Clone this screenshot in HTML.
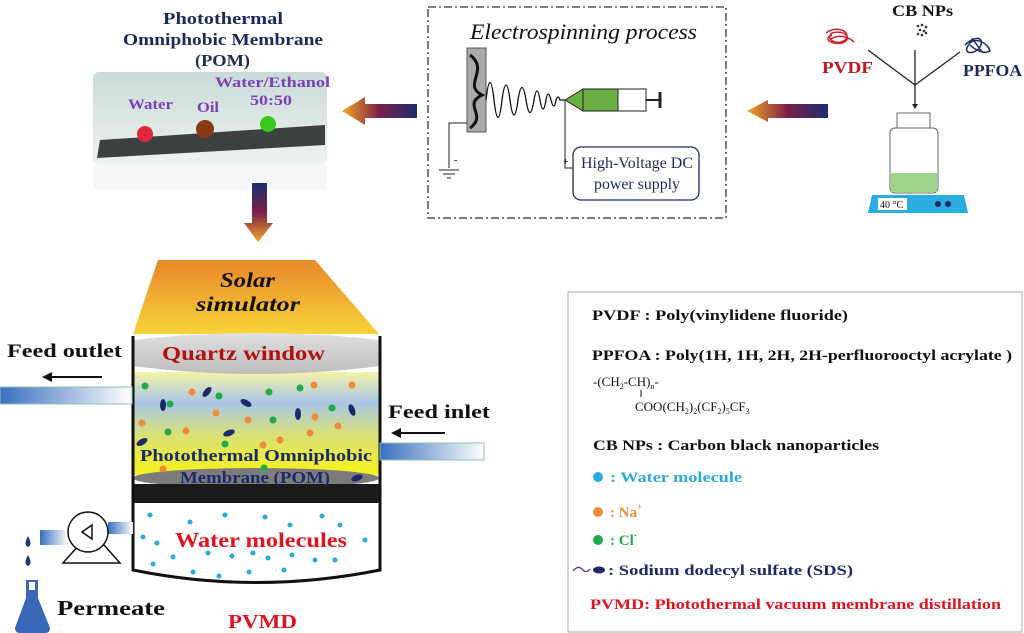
<!DOCTYPE html>
<html><head><meta charset="utf-8"><style>
html,body{margin:0;padding:0;background:#fff;}
svg{display:block;font-family:"Liberation Serif",serif;}
.b{font-weight:bold;}
</style></head><body>
<svg width="1024" height="633" viewBox="0 0 1024 633" xmlns="http://www.w3.org/2000/svg">
<defs>
<linearGradient id="arrH" x1="0" x2="1" y1="0" y2="0"><stop offset="0" stop-color="#f5a623"/><stop offset="0.5" stop-color="#7a1f4a"/><stop offset="1" stop-color="#1a2e6e"/></linearGradient>
<linearGradient id="arrV" x1="0" x2="0" y1="0" y2="1"><stop offset="0" stop-color="#1a2e6e"/><stop offset="0.5" stop-color="#7a1f4a"/><stop offset="1" stop-color="#f5a623"/></linearGradient>
<linearGradient id="solar" x1="0" x2="0" y1="0" y2="1"><stop offset="0" stop-color="#e8872a"/><stop offset="1" stop-color="#f8d43a"/></linearGradient>
<linearGradient id="feed" x1="0" x2="0" y1="0" y2="1"><stop offset="0" stop-color="#f4f3a8"/><stop offset="0.3" stop-color="#a9c6e6"/><stop offset="0.6" stop-color="#d8e07a"/><stop offset="1" stop-color="#f8f21a"/></linearGradient>
<linearGradient id="pipeL" x1="0" x2="1"><stop offset="0" stop-color="#3a6fc0"/><stop offset="1" stop-color="#ffffff"/></linearGradient>
<linearGradient id="photo" x1="0" x2="0" y1="0" y2="1"><stop offset="0" stop-color="#c9dcd8"/><stop offset="0.6" stop-color="#dfe9e6"/><stop offset="1" stop-color="#eef3f2"/></linearGradient>
<linearGradient id="quartz" x1="0" x2="0" y1="0" y2="1"><stop offset="0" stop-color="#e0e0e0"/><stop offset="1" stop-color="#bdbdbd"/></linearGradient>
</defs>

<!-- top left title -->
<g class="b" fill="#1c2a5a" font-size="17">
<text x="163" y="24" textLength="120" lengthAdjust="spacingAndGlyphs">Photothermal</text>
<text x="123" y="45" textLength="200" lengthAdjust="spacingAndGlyphs">Omniphobic Membrane</text>
<text x="195" y="66" textLength="55" lengthAdjust="spacingAndGlyphs">(POM)</text>
</g>
<!-- photo -->
<rect x="93" y="72" width="234" height="93" rx="6" fill="url(#photo)"/>
<rect x="93" y="165" width="234" height="24" fill="#f2f5f4" opacity="0.7"/>
<polygon points="100,140 325,125 325,145 97,158" fill="#3d4040"/>
<circle cx="145" cy="134" r="8" fill="#e0283c"/>
<circle cx="205" cy="129" r="9" fill="#8a3a12"/>
<circle cx="268" cy="124" r="8" fill="#3cc81c"/>
<g class="b" fill="#7b3fb8" font-size="15">
<text x="128" y="109" textLength="45" lengthAdjust="spacingAndGlyphs">Water</text>
<text x="197" y="112" textLength="22" lengthAdjust="spacingAndGlyphs">Oil</text>
<text x="215" y="87" textLength="115" lengthAdjust="spacingAndGlyphs">Water/Ethanol</text>
<text x="250" y="105" textLength="42" lengthAdjust="spacingAndGlyphs">50:50</text>
</g>
<!-- arrows -->
<polygon points="342,111 365,97 365,104 417,104 417,118 365,118 365,125" fill="url(#arrH)"/>
<polygon points="747,111 768,100 768,104 828,104 828,118 768,118 768,122" fill="url(#arrH)"/>
<polygon points="252,183 267,183 267,223 273,223 258,242 244,223 252,223" fill="url(#arrV)"/>

<!-- electrospinning box -->
<rect x="428" y="7" width="298" height="211" fill="none" stroke="#333" stroke-width="1.3" stroke-dasharray="8,3,2,3"/>
<text x="470" y="39" font-size="22" font-style="italic" fill="#111" textLength="227" lengthAdjust="spacingAndGlyphs">Electrospinning process</text>
<rect x="467" y="48" width="19" height="84" fill="#aaa" stroke="#555"/>
<path d="M470,55 C490,70 462,85 482,95 C462,105 488,115 470,128" stroke="#111" stroke-width="3" fill="none"/>
<path d="M486,100 Q490,65 494,100 T502,100 Q506,70 510,100 T518,100 Q522,75 526,100 T534,100 Q537,82 540,100 T546,100 Q548,88 551,100 T556,100 Q558,94 560,100 L565,100" stroke="#111" stroke-width="1.3" fill="none"/>
<polygon points="565,100 583,89 583,111" fill="#6aae44" stroke="#222"/>
<rect x="583" y="89" width="35" height="22" fill="#6aae44" stroke="#222"/>
<rect x="618" y="89" width="28" height="22" fill="#fff" stroke="#222"/>
<line x1="646" y1="100" x2="660" y2="100" stroke="#222" stroke-width="2"/>
<line x1="660" y1="92" x2="660" y2="108" stroke="#222" stroke-width="3"/>
<polyline points="565,100 565,168 573,168" fill="none" stroke="#222"/>
<text x="563" y="165" font-size="10">+</text>
<polyline points="467,123 449,123 449,168" fill="none" stroke="#222"/>
<line x1="439" y1="170" x2="459" y2="170" stroke="#222"/><line x1="443" y1="174" x2="455" y2="174" stroke="#222"/><line x1="447" y1="178" x2="451" y2="178" stroke="#222"/>
<text x="454" y="163" font-size="10">-</text>
<rect x="573" y="147" width="126" height="53" rx="8" fill="#fff" stroke="#1c2a5a" stroke-width="1.3"/>
<g fill="#1c2a5a" font-size="16"><text x="581" y="168" textLength="112" lengthAdjust="spacingAndGlyphs">High-Voltage DC</text><text x="594" y="189" textLength="86" lengthAdjust="spacingAndGlyphs">power supply</text></g>

<!-- right: mixing -->
<text x="892" y="16" class="b" font-size="16" fill="#111" textLength="61" lengthAdjust="spacingAndGlyphs">CB NPs</text>
<g fill="#333"><circle cx="918" cy="26" r="1.3"/><circle cx="922" cy="25" r="1.3"/><circle cx="926" cy="27" r="1.3"/><circle cx="920" cy="30" r="1.3"/><circle cx="924" cy="31" r="1.3"/><circle cx="918" cy="34" r="1.3"/><circle cx="922" cy="35" r="1.3"/><circle cx="926" cy="33" r="1.3"/></g>
<path d="M826,33 c10,-8 25,-2 20,6 c-8,8 -22,0 -14,-6 c12,-4 22,6 10,10 c-10,2 -20,-4 -10,-8 M830,40 c6,-6 18,-4 24,2" stroke="#d0202a" stroke-width="1.5" fill="none"/>
<path d="M965,45 c10,-10 20,-8 15,2 c-5,8 -20,8 -10,-4 c6,-6 18,0 20,8 c-6,4 -16,-2 -20,-6 M972,38 l10,14" stroke="#1c2a6a" stroke-width="1.5" fill="none"/>
<text x="822" y="73" class="b" font-size="17" fill="#c8161e" textLength="51" lengthAdjust="spacingAndGlyphs">PVDF</text>
<text x="963" y="76" class="b" font-size="17" fill="#1c2a5a" textLength="59" lengthAdjust="spacingAndGlyphs">PPFOA</text>
<g stroke="#222" stroke-width="1.3" fill="none"><line x1="868" y1="50" x2="915" y2="85"/><line x1="960" y1="52" x2="915" y2="85"/><line x1="915" y1="50" x2="915" y2="106"/></g>
<polygon points="912,104 918,104 915,109" fill="#222"/>
<rect x="897" y="113" width="33" height="15" fill="#fff" stroke="#666"/>
<rect x="890" y="128" width="48" height="65" rx="5" fill="#fff" stroke="#666"/>
<rect x="891" y="173" width="46" height="19" fill="#9fd58a"/>
<polygon points="872,195 964,195 968,213 868,213" fill="#2aaee0"/>
<rect x="878" y="198" width="29" height="12" fill="#fff"/>
<text x="880" y="208" font-size="10" fill="#111">40 °C</text>
<circle cx="938" cy="204" r="3" fill="#1c2a6a"/><circle cx="948" cy="204" r="3" fill="#1c2a6a"/>

<!-- PVMD -->
<polygon points="158,260 315,260 379,334 133,334" fill="url(#solar)"/>
<g class="b" font-style="italic" font-size="21" fill="#111"><text x="220" y="287" textLength="55" lengthAdjust="spacingAndGlyphs">Solar</text><text x="196" y="311" textLength="104" lengthAdjust="spacingAndGlyphs">simulator</text></g>
<path d="M133,372 L133,475 L380,475 L380,372 Z" fill="url(#feed)"/>
<path d="M133,340 Q256,326 380,340 L380,366 Q256,382 133,366 Z" fill="url(#quartz)"/>
<text x="162" y="360" class="b" font-size="20" fill="#b01010" textLength="163" lengthAdjust="spacingAndGlyphs">Quartz window</text>
<ellipse cx="256" cy="478" rx="123" ry="10" fill="#7c7c7c"/>
<rect x="133" y="484" width="247" height="19" fill="#1a1a1a"/>
<path d="M133,503 L133,570 Q256,595 380,570 L380,503 Z" fill="#fff"/>
<path d="M133,336 L133,570 Q256,595 380,570 L380,336" fill="none" stroke="#111" stroke-width="3"/>
<g fill="#f08a3c"><circle cx="192" cy="392" r="3.5"/><circle cx="314" cy="385" r="3.5"/><circle cx="352" cy="385" r="3.5"/><circle cx="216" cy="413" r="3.5"/><circle cx="248" cy="420" r="3.5"/><circle cx="142" cy="423" r="3.5"/><circle cx="186" cy="431" r="3.5"/><circle cx="315" cy="417" r="3.5"/><circle cx="338" cy="426" r="3.5"/><circle cx="310" cy="433" r="3.5"/><circle cx="280" cy="440" r="3.5"/><circle cx="263" cy="445" r="3.5"/><circle cx="163" cy="469" r="3.5"/></g>
<g fill="#22a94a"><circle cx="145" cy="386" r="3.5"/><circle cx="170" cy="404" r="3.5"/><circle cx="219" cy="396" r="3.5"/><circle cx="269" cy="392" r="3.5"/><circle cx="300" cy="388" r="3.5"/><circle cx="332" cy="408" r="3.5"/><circle cx="273" cy="420" r="3.5"/><circle cx="168" cy="432" r="3.5"/><circle cx="225" cy="444" r="3.5"/><circle cx="264" cy="468" r="3.5"/></g>
<g fill="#1c2a6a"><ellipse cx="207" cy="392" rx="3" ry="6" transform="rotate(40 207 392)"/><ellipse cx="163" cy="405" rx="3" ry="6"/><ellipse cx="246" cy="403" rx="3" ry="6" transform="rotate(-60 246 403)"/><ellipse cx="298" cy="414" rx="3" ry="6"/><ellipse cx="352" cy="410" rx="3" ry="6" transform="rotate(-20 352 410)"/><ellipse cx="229" cy="433" rx="3" ry="6" transform="rotate(70 229 433)"/><ellipse cx="142" cy="442" rx="3" ry="6" transform="rotate(60 142 442)"/><ellipse cx="357" cy="478" rx="3" ry="6" transform="rotate(70 357 478)"/></g>
<g class="b" font-size="17" fill="#1c2a6a"><text x="140" y="461" textLength="232" lengthAdjust="spacingAndGlyphs">Photothermal Omniphobic</text><text x="180" y="483" textLength="150" lengthAdjust="spacingAndGlyphs">Membrane (POM)</text></g>
<g fill="#29a9e0"><circle cx="150" cy="515" r="2.5"/><circle cx="190" cy="522" r="2.5"/><circle cx="225" cy="515" r="2.5"/><circle cx="265" cy="517" r="2.5"/><circle cx="290" cy="525" r="2.5"/><circle cx="322" cy="516" r="2.5"/><circle cx="340" cy="525" r="2.5"/><circle cx="143" cy="537" r="2.5"/><circle cx="157" cy="543" r="2.5"/><circle cx="365" cy="540" r="2.5"/><circle cx="153" cy="564" r="2.5"/><circle cx="173" cy="557" r="2.5"/><circle cx="208" cy="553" r="2.5"/><circle cx="232" cy="556" r="2.5"/><circle cx="253" cy="553" r="2.5"/><circle cx="268" cy="558" r="2.5"/><circle cx="292" cy="555" r="2.5"/><circle cx="315" cy="560" r="2.5"/><circle cx="335" cy="560" r="2.5"/><circle cx="193" cy="572" r="2.5"/><circle cx="219" cy="576" r="2.5"/><circle cx="249" cy="572" r="2.5"/><circle cx="284" cy="570" r="2.5"/></g>
<text x="175" y="547" class="b" font-size="21" fill="#e0141e" textLength="172" lengthAdjust="spacingAndGlyphs">Water  molecules</text>
<!-- feed pipes -->
<text x="7" y="357" class="b" font-size="19" fill="#111" textLength="115" lengthAdjust="spacingAndGlyphs">Feed outlet</text>
<line x1="48" y1="377" x2="102" y2="377" stroke="#111" stroke-width="2"/><polygon points="42,377 52,372 52,382" fill="#111"/>
<rect x="0" y="387" width="132" height="17" fill="url(#pipeL)" stroke="#8bc4a8"/>
<text x="388" y="418" class="b" font-size="19" fill="#111" textLength="102" lengthAdjust="spacingAndGlyphs">Feed inlet</text>
<line x1="398" y1="433" x2="445" y2="433" stroke="#111" stroke-width="2"/><polygon points="391,433 401,428 401,438" fill="#111"/>
<rect x="380" y="443" width="104" height="17" fill="url(#pipeL)" stroke="#8bc4a8"/>
<!-- pump -->
<rect x="40" y="530" width="28" height="15" fill="url(#pipeL)"/>
<rect x="108" y="522" width="25" height="12" fill="url(#pipeL)"/>
<polygon points="63,563 120,563 104,545 79,545" fill="#fff" stroke="#111" stroke-width="1.5"/>
<circle cx="88" cy="532" r="20" fill="#fff" stroke="#111" stroke-width="1.5"/>
<polygon points="82,532 92,525 92,539" fill="none" stroke="#111" stroke-width="1.5"/>
<g fill="#1c3a7a"><path d="M28,536 q-5,9 0,11 q5,-2 0,-11z"/><path d="M28,555 q-5,9 0,11 q5,-2 0,-11z"/></g>
<path d="M26,580 L38,580 L38,598 L50,628 Q50,633 45,633 L20,633 Q15,633 15,628 L26,598 Z" fill="#3a66b8"/>
<rect x="29" y="582" width="6" height="8" fill="#fff"/>
<text x="57" y="615" class="b" font-size="21" fill="#111" textLength="108" lengthAdjust="spacingAndGlyphs">Permeate</text>
<text x="228" y="628" class="b" font-size="20" fill="#e0141e" textLength="69" lengthAdjust="spacingAndGlyphs">PVMD</text>

<!-- legend -->
<rect x="568" y="292" width="454" height="340" fill="#fff" stroke="#aaa" stroke-width="1"/>
<g class="b" font-size="15" fill="#111">
<text x="592" y="320" textLength="256" lengthAdjust="spacingAndGlyphs">PVDF : Poly(vinylidene fluoride)</text>
<text x="592" y="360" textLength="420" lengthAdjust="spacingAndGlyphs">PPFOA : Poly(1H, 1H, 2H, 2H-perfluorooctyl acrylate )</text>
<text x="593" y="450" textLength="286" lengthAdjust="spacingAndGlyphs">CB NPs : Carbon black nanoparticles</text>
</g>
<g font-size="13" fill="#111">
<text x="593" y="386">-(CH<tspan font-size="8" dy="3">2</tspan><tspan dy="-3">-CH)</tspan><tspan font-size="8" dy="3">n</tspan><tspan dy="-3">-</tspan></text>
<line x1="641" y1="390" x2="641" y2="397" stroke="#111"/>
<text x="635" y="411">COO(CH<tspan font-size="8" dy="3">2</tspan><tspan dy="-3">)</tspan><tspan font-size="8" dy="3">2</tspan><tspan dy="-3">(CF</tspan><tspan font-size="8" dy="3">2</tspan><tspan dy="-3">)</tspan><tspan font-size="8" dy="3">5</tspan><tspan dy="-3">CF</tspan><tspan font-size="8" dy="3">3</tspan></text>
</g>
<circle cx="598" cy="477" r="5" fill="#29a9e0"/>
<text x="610" y="482" class="b" font-size="15" fill="#29a9e0" textLength="132" lengthAdjust="spacingAndGlyphs">: Water molecule</text>
<circle cx="598" cy="512" r="5" fill="#f08a3c"/>
<text x="610" y="517" class="b" font-size="15" fill="#f08a3c">: Na<tspan font-size="9" dy="-7">+</tspan></text>
<circle cx="598" cy="540" r="5" fill="#22a94a"/>
<text x="610" y="545" class="b" font-size="15" fill="#22a94a">: Cl<tspan font-size="9" dy="-7">-</tspan></text>
<path d="M573,571 q5,-6 9,-2 q4,5 8,0" stroke="#5a2a8a" stroke-width="1.3" fill="none"/>
<ellipse cx="599" cy="570" rx="6" ry="3.5" fill="#1c2a6a"/>
<text x="608" y="575" class="b" font-size="15" fill="#1c2a6a" textLength="245" lengthAdjust="spacingAndGlyphs">: Sodium dodecyl sulfate (SDS)</text>
<text x="590" y="609" class="b" font-size="15" fill="#e0141e" textLength="411" lengthAdjust="spacingAndGlyphs">PVMD: Photothermal vacuum membrane distillation</text>
</svg>
</body></html>
